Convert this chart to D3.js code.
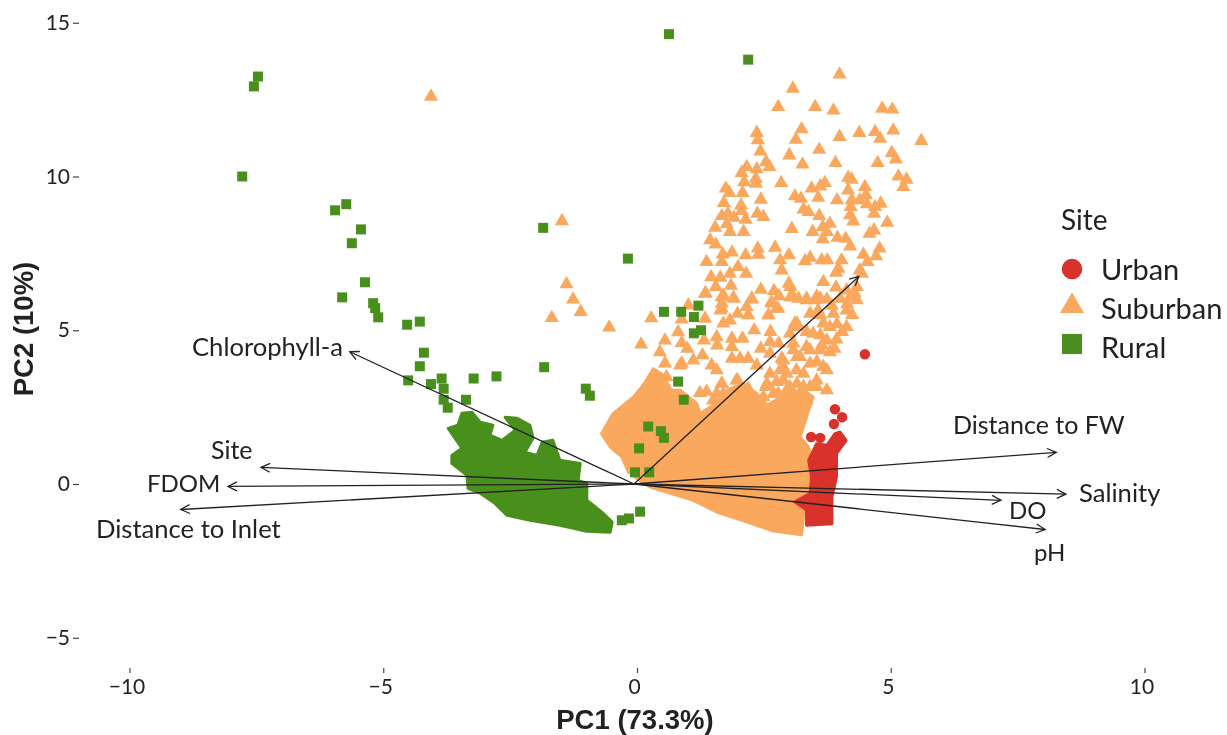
<!DOCTYPE html>
<html><head><meta charset="utf-8">
<script src="https://cdn.jsdelivr.net/npm/d3@7"></script>
<style>html,body{margin:0;padding:0;background:#fff}svg{display:block}</style>
</head><body><div id="chart"></div>
<script>
const xTicks=[-10,-5,0,5,10];
const yTicks=[-5,0,5,10,15];
const legendLabels=["Urban","Suburban","Rural"];
const urbanPoints=[[4.55,4.22],[3.96,2.43],[4.1,2.17],[3.94,1.95],[3.49,1.53],[3.67,1.5]];
const urbanCloud=[[3.44,.77],[3.6,1.31],[3.8,1.26],[3.96,1.64],[4.06,1.69],[4.18,1.42],[3.99,.99],[3.99,.23],[3.9,-.42],[3.9,-1.29],[3.4,-1.34],[3.4,-.85],[3.17,-.58],[3.47,-.31],[3.5,.23]];
const suburbanCloud=[[-.64,1.64],[-.41,2.29],[-.01,2.83],[.18,3.21],[.38,3.75],[.58,3.54],[.64,3.05],[.91,3.05],[1.24,2.61],[1.3,2.29],[1.56,2.56],[1.83,3.05],[2.16,3.26],[2.42,2.94],[2.62,2.56],[3.01,2.94],[3.34,3.05],[3.53,2.83],[3.44,2.4],[3.34,1.86],[3.27,1.53],[3.44,1.2],[3.53,.66],[3.53,-.42],[3.34,-1.07],[3.3,-1.65],[2.75,-1.53],[2.22,-1.23],[1.63,-.91],[1.17,-.53],[.64,-.26],[.32,-.1],[.15,.07],[-.11,.39],[-.24,.88],[-.47,1.21]];
const suburbanPoints=[[-4.0,12.6],[-1.42,8.55],[-1.33,6.5],[-1.2,6.0],[-1.05,5.6],[-1.62,5.4],[-.49,5.09],[.34,5.39],[.14,4.54],
[4.05,13.32],[3.13,12.86],[2.84,12.26],[3.57,12.26],[3.93,12.15],[4.89,12.21],[5.09,12.18],[2.42,11.42],[2.44,11.18],[3.3,11.54],[3.19,11.2],[4.05,11.29],[4.44,11.42],[4.75,11.45],[4.85,11.23],[5.11,11.5],[5.66,11.16],[2.49,10.82],[3.06,10.69],[3.65,10.87],[5.08,10.77],[5.16,10.56],[4.8,10.44],[3.97,10.44],[3.32,10.39],[2.6,10.47],[2.67,10.31],[2.22,10.31],[2.42,10.24],[2.12,10.12],[2.4,9.93],[2.17,9.82],[2.4,9.77],[2.9,9.79],[5.21,10],[5.37,9.9],[5.31,9.66],[4.22,9.96],[4.29,9.9],[3.76,9.79],[3.67,9.68],[3.5,9.61],[4.22,9.55],[4.55,9.66],[1.81,9.61],[1.88,9.47],[2.14,9.47],[1.77,9.14],[2.5,9.25],[3.17,9.36],[3.29,9.28],[3.63,9.31],[4,9.23],[4.29,9.23],[4.45,9.23],[4.57,9.39],[4.59,9.1],[4.86,9.12],[4.75,9.01],[4.73,8.79],[4.27,9.01],[4.26,8.74],[4.32,8.54],[2.11,9.06],[2.12,8.88],[3.34,8.93],[3.44,8.85],[3.65,8.72],[2.43,8.79],[2.55,8.69],[1.73,8.72],[1.85,8.79],[1.97,8.66],[2.2,8.6],[1.83,8.45],[1.6,8.34],[1.89,8.2],[2.16,8.2],[3.11,8.3],[3.52,8.2],[3.72,8.36],[3.86,8.47],[3.8,8.2],[3.72,7.96],[4.01,8.01],[4.17,7.98],[4.26,7.73],[4.64,8.14],[4.73,8.25],[4.99,8.5],[4.84,7.66],[4.52,7.46],[4.77,7.41],[4.6,7.22],[1.5,7.93],[1.61,7.79],[2.78,7.69],[2.44,7.66],[2.45,7.46],[1.75,7.47],[1.93,7.53],[2.2,7.44],[3.05,7.44],[2.88,7.28],[3.47,7.36],[3.37,7.25],[3.7,7.28],[3.81,7.28],[4.09,7.28],[1.43,7.22],[1.73,7.22],[2.05,7.06],[1.89,6.84],[2.21,6.84],[2.91,6.95],[4.03,7],[3.98,6.87],[4.45,6.95],[4.49,6.84],[1.52,6.73],[1.7,6.71],[1.61,6.41],[1.91,6.45],[3.05,6.52],[3.08,6.41],[3.73,6.57],[1.41,6.21],[2.5,6.32],[2.76,6.28],[3.98,6.39],[4.19,6.3],[4.39,6.41],[1.76,6.14],[1.96,6.06],[2.32,6],[2.86,6.11],[3.08,6.08],[3.24,6.03],[3.4,5.98],[3.57,5.98],[3.8,6],[4.06,6.03],[4.26,6.08],[4.39,5.98],[2.71,5.92],[1.73,5.87],
[1.07,5.81],[.94,5.35],[1.4,5.38],[1.7,5.65],[2.04,5.54],[2.25,5.49],[2.65,5.49],[2.81,5.7],[1.76,5.22],[1.89,5.32],[2.37,5],[2.69,4.95],[3.21,5.22],[3.47,5.54],[3.67,5.49],[3.93,5.54],[4.19,5.65],[3.86,5.11],[4.19,5.11],[3.4,4.95],[3.67,4.84],[3.99,4.7],[1.63,4.78],[1.93,4.73],[2.14,4.73],[.87,4.94],[.61,4.67],[.94,4.59],[.51,4.29],[1.05,4.4],[1.38,4.67],[1.64,4.51],[1.93,4.46],[2.5,4.4],[2.68,4.62],[2.85,4.57],[3.14,4.57],[3.47,4.35],[3.7,4.51],[3.86,4.29],[.61,3.92],[.94,3.92],[1.17,4.02],[1.35,4.19],[1.53,3.86],[1.63,3.7],[1.93,4.08],[2.09,4.08],[2.25,4.08],[2.42,3.86],[2.68,4.24],[2.91,4.08],[3.21,4.13],[3.6,3.97],[3.8,3.7],[1.73,3.26],[2.04,3.37],[1.3,2.96],[1.43,3],[1.63,2.94],[2.25,3.1],[2.62,3.26],[.64,3.48],[3.01,3.59],[3.34,3.59],[3.47,3.16],[2.75,2.94],[3.01,3.05],[3.27,2.72],[2.94,3.81],[3.6,3.37],[2.81,3.32],[3.21,3.26],[2.29,2.61],
[2.94,4.02],[3.14,4.35],[3.4,4.46],[3.67,4.35],[3.2,5.11],[3.53,4.89],[3.8,4.67],[2.94,3.37],[3.2,3.7],[3.47,3.92],[3.73,3.81],[2.6,3.16],[2.84,2.94],[3.07,3.16],[3.34,3.16],[3.6,3.16],[3.8,3.05],[2.68,3.59],[2.88,3.7],[3.27,4.13],[3.14,2.83],[3.4,2.72],[2.55,2.83],[2.29,2.83],[2.02,2.72],[1.76,2.94],[1.56,2.72],[2.02,3.37],[2.22,3.05],[1.73,3.26],[1.4,6.19],[1.73,6.08],[1.96,6.03],[2.32,6.03],[1.73,5.7],[2.22,5.76],[2.71,5.87],[2.84,5.7],[2.65,5.49],[3.14,6.08],[3.4,6.03],[3.67,6.03],[3.63,5.65],[3.73,5.22],[3.17,5.22],[3.07,4.89],[.41,3.48],[.41,3.05],[.64,3.16],[.91,3.86],[3.6,6.1],[3.9,5.8],[4.2,5.85],[4.3,5.5],[4.0,5.2],[4.35,6.2],[4.1,4.95],[3.95,4.4]];
const ruralCloud=[[-3.39,2.3],[-3.19,2.33],[-3.03,2.01],[-2.78,1.91],[-2.84,1.59],[-2.6,1.42],[-2.34,1.75],[-2.54,2.17],[-2.31,2.14],[-2.05,1.91],[-1.99,1.49],[-2.15,1.03],[-1.91,.93],[-1.81,1.36],[-1.6,1.42],[-1.46,.77],[-1.06,.67],[-1.1,.12],[-.93,.02],[-.93,-.53],[-.61,-.95],[-.43,-1.24],[-.47,-1.57],[-.93,-1.54],[-1.46,-1.34],[-2.05,-1.18],[-2.5,-1.02],[-2.74,-.63],[-3.03,-.3],[-3.27,-.14],[-3.29,.28],[-3.59,.67],[-3.59,.93],[-3.39,1.16],[-3.66,1.81],[-3.47,1.91]];
const ruralPoints=[[.69,14.63],[2.25,13.8],[-7.41,13.25],[-7.49,12.93],[-7.72,10],[-5.89,8.9],[-5.67,9.1],[-5.38,8.28],[-5.56,7.83],[-5.3,6.56],[-5.75,6.07],[-5.14,5.88],[-5.1,5.72],[-5.04,5.42],[-4.47,5.18],[-4.22,5.28],[-4.14,4.27],[-4.22,3.83],[-4.45,3.37],[-4.0,3.25],[-3.79,3.43],[-3.75,3.1],[-3.75,2.74],[-3.67,2.48],[-3.16,3.43],[-2.71,3.5],[-1.77,3.8],[-.95,3.1],[-.87,2.87],[-3.31,2.74],[-1.79,8.33],[-.12,7.33],[.93,5.6],[1.27,5.8],[.59,5.6],[1.18,5.43],[1.32,5.0],[1.18,4.9],[.87,3.33],[.98,2.74],[.28,1.87],[.53,1.72],[.59,1.5],[.1,1.16],[.02,.38],[.3,.38],[.12,-.9],[-.1,-1.12],[-.24,-1.18]];
const loadings=[
 {name:"Chlorophyll-a",pc1:-5.6,pc2:4.3},
 {name:"Site",pc1:-7.35,pc2:.54},
 {name:"FDOM",pc1:-8.0,pc2:-.08},
 {name:"Distance to Inlet",pc1:-8.93,pc2:-.83},
 {name:"Distance to FW",pc1:8.32,pc2:1.03},
 {name:"Salinity",pc1:8.51,pc2:-.33},
 {name:"DO",pc1:7.23,pc2:-.53},
 {name:"pH",pc1:8.1,pc2:-1.48},
 {name:"",pc1:4.43,pc2:6.75}
];
const labelPos={"Chlorophyll-a":[192,356,25.6],"Site":[211,459,25],"FDOM":[147,492,24],"Distance to Inlet":[96,538,25.6],"Distance to FW":[953,434,25],"Salinity":[1079,502,25.6],"DO":[1009,519,24],"pH":[1034,561,24]};
const RED="#d9302a",ORANGE="#fba85e",GREEN="#4a8f1f",INK="#222";
const FONT="Lato, sans-serif",BOLD="'Liberation Sans', Arial, sans-serif";

const W=1227,H=735;
const svg=d3.select("#chart").append("svg").attr("width",W).attr("height",H);
const x=d3.scaleLinear().domain([-10,10]).range([126.5,1141.5]);
const y=d3.scaleLinear().domain([-5,15]).range([637.75,22.75]);

const defs=svg.append("defs");
defs.append("filter").attr("id","soft").attr("x","-5%").attr("y","-5%").attr("width","110%").attr("height","110%")
  .append("feGaussianBlur").attr("stdDeviation",0.45);
defs.append("marker").attr("id","head").attr("viewBox","-12 -7 14 14").attr("refX",0).attr("refY",0)
  .attr("markerWidth",14).attr("markerHeight",14).attr("markerUnits","userSpaceOnUse").attr("orient","auto")
  .append("path").attr("d","M-9,-4.5L0,0L-9,4.5").attr("fill","none").attr("stroke","#222").attr("stroke-width",1.3);

const root=svg.append("g").attr("filter","url(#soft)");
const line=d3.line().x(d=>x(d[0])).y(d=>y(d[1])).curve(d3.curveLinearClosed);
const sym=(type,size)=>d3.symbol().type(type).size(size)();
function points(data,type,size,color){
  root.append("g").selectAll("path").data(data).join("path")
    .attr("d",sym(type,size)).attr("fill",color)
    .attr("transform",d=>`translate(${x(d[0])},${y(d[1])})`);
}
function cloud(data,color){
  root.append("path").datum(data).attr("d",line).attr("fill",color).attr("stroke",color).attr("stroke-width",3).attr("stroke-linejoin","round");
}
cloud(suburbanCloud,ORANGE);
points(suburbanPoints,d3.symbolTriangle,88,ORANGE);
cloud(urbanCloud,RED);
points(urbanPoints,d3.symbolCircle,85,RED);
cloud(ruralCloud,GREEN);
points(ruralPoints,d3.symbolSquare,100,GREEN);

root.append("g").selectAll("line").data(loadings).join("line")
  .attr("x1",x(0)).attr("y1",y(0)).attr("x2",d=>x(d.pc1)).attr("y2",d=>y(d.pc2))
  .attr("stroke","#222").attr("stroke-width",1.3).attr("marker-end","url(#head)");

root.append("g").selectAll("text").data(loadings.filter(d=>d.name)).join("text")
  .attr("x",d=>labelPos[d.name][0]).attr("y",d=>labelPos[d.name][1])
  .attr("font-family",FONT).attr("font-size",d=>labelPos[d.name][2]).attr("fill",INK).text(d=>d.name);

const fmt=d=>d<0?"\u2212"+Math.abs(d):""+d;
const xAxis=d3.axisBottom(x).tickValues(xTicks).tickFormat(fmt).tickSize(5);
const xg=root.append("g").attr("transform","translate(0,668)").call(xAxis);
xg.select(".domain").remove();
xg.selectAll(".tick line").attr("stroke","#444").attr("stroke-width",1.2).attr("transform","translate(3,0)");
xg.selectAll(".tick text").attr("y",11).attr("font-family",FONT).attr("font-size",21).attr("fill",INK);

const yAxis=d3.axisLeft(y).tickValues(yTicks).tickFormat(fmt).tickSize(6);
const yg=root.append("g").attr("transform","translate(79,0)").call(yAxis);
yg.select(".domain").remove();
yg.selectAll(".tick line").attr("stroke","#444").attr("stroke-width",1.2);
yg.selectAll(".tick text").attr("x",-9).attr("font-family",FONT).attr("font-size",21).attr("fill",INK);

root.append("text").attr("x",635).attr("y",729).attr("text-anchor","middle")
  .attr("font-family",BOLD).attr("font-weight","bold").attr("font-size",27.5).attr("fill","#222").text("PC1 (73.3%)");
root.append("text").attr("transform","translate(33,329) rotate(-90)").attr("text-anchor","middle")
  .attr("font-family",BOLD).attr("font-weight","bold").attr("font-size",27.5).attr("fill","#222").text("PC2 (10%)");

root.append("text").attr("x",1061).attr("y",230).attr("font-family",FONT).attr("font-size",28).attr("fill",INK).text("Site");
const legendY=[269,306,344];
const legendTextY=[280,319,358];
const legendSyms=[[d3.symbolCircle,330,RED],[d3.symbolTriangle,250,ORANGE],[d3.symbolSquare,400,GREEN]];
legendLabels.forEach((t,i)=>{
  root.append("path").attr("d",sym(legendSyms[i][0],legendSyms[i][1])).attr("fill",legendSyms[i][2])
    .attr("transform",`translate(1072,${legendY[i]})`);
  root.append("text").attr("x",1101).attr("y",legendTextY[i]).attr("font-family",FONT).attr("font-size",29).attr("fill",INK).text(t);
});
</script></body></html>
